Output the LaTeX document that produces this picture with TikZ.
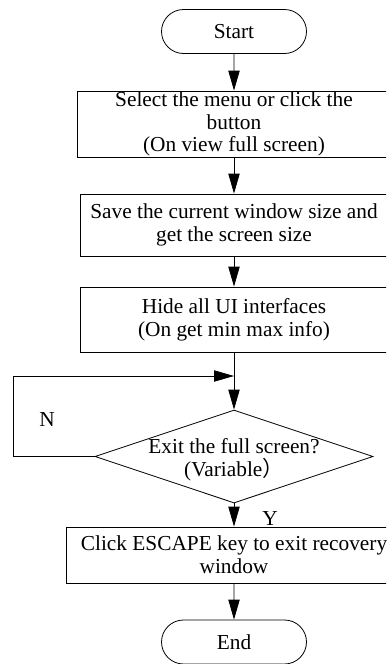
\documentclass[tikz,border=0pt]{standalone}
\usepackage{fontspec}
\setmainfont{Liberation Serif}
\newfontfamily\cjkfont{Noto Sans CJK SC}
\usetikzlibrary{
    arrows.meta,
    shapes.geometric,
    shapes.misc,
    positioning
}

\tikzset{
    flowline/.style={draw, line width=0.6pt},
    arrowline/.style={flowline, -{Triangle[length=15pt, width=8.5pt]}},
    terminal/.style={draw, line width=0.6pt, rounded rectangle,
        minimum width=108.75pt, minimum height=33pt, inner sep=0pt},
    stepbox/.style={draw, line width=0.6pt, rectangle, align=center, inner sep=0pt},
    decision/.style={draw, line width=0.6pt, diamond, inner sep=0pt,
        minimum width=208.5pt, minimum height=69.75pt}
}

\begin{document}
\begin{tikzpicture}[x=0.75pt, y=0.75pt, font=\fontsize{16}{17}\selectfont]
    \useasboundingbox (0, 0) rectangle (386, -664);
    \clip (0, 0) rectangle (386, -664);
    % steps of the flow
    \node[terminal] (start) at (234, -31.5) {Start};
    \node[stepbox, minimum width=235.5pt, minimum height=49.5pt] (menu) at (234, -124)
        {Select the menu or click the\\button\\(On view full screen)};
    \node[stepbox, minimum width=231pt, minimum height=46.5pt] (save) at (234, -225)
        {Save the current window size and\\get the screen size};
    \node[stepbox, minimum width=231pt, minimum height=48.75pt] (hide) at (234, -319.5)
        {Hide all UI interfaces\\(On get min max info)};
    \node[decision] (exit) at (234, -456.5) {};
    \node[align=center, inner sep=0pt] (exittext) at (234, -460)
        {Exit the full screen?\\(Variable{\cjkfont ）}};
    \node[stepbox, minimum width=252pt, minimum height=42pt] (escape) at (234, -555)
        {Click ESCAPE key to exit recovery\\window};
    \node[terminal] (end) at (234, -642) {End};
    % loop back
    \coordinate (loopcorner) at (13, -456.5);
    \coordinate (join) at (234, -376);
    \node (no) at (47, -420) {N};
    \node (yes) at (270, -519) {Y};
    \draw[arrowline] (start) -- (menu);
    \draw[arrowline] (menu) -- (save);
    \draw[arrowline] (save) -- (hide);
    \draw[arrowline] (hide) -- (exit);
    \draw[arrowline] (exit.west) -- (loopcorner) |- (join);
    \draw[arrowline] (exit) -- (escape);
    \draw[arrowline] (escape) -- (end);
\end{tikzpicture}
\end{document}
